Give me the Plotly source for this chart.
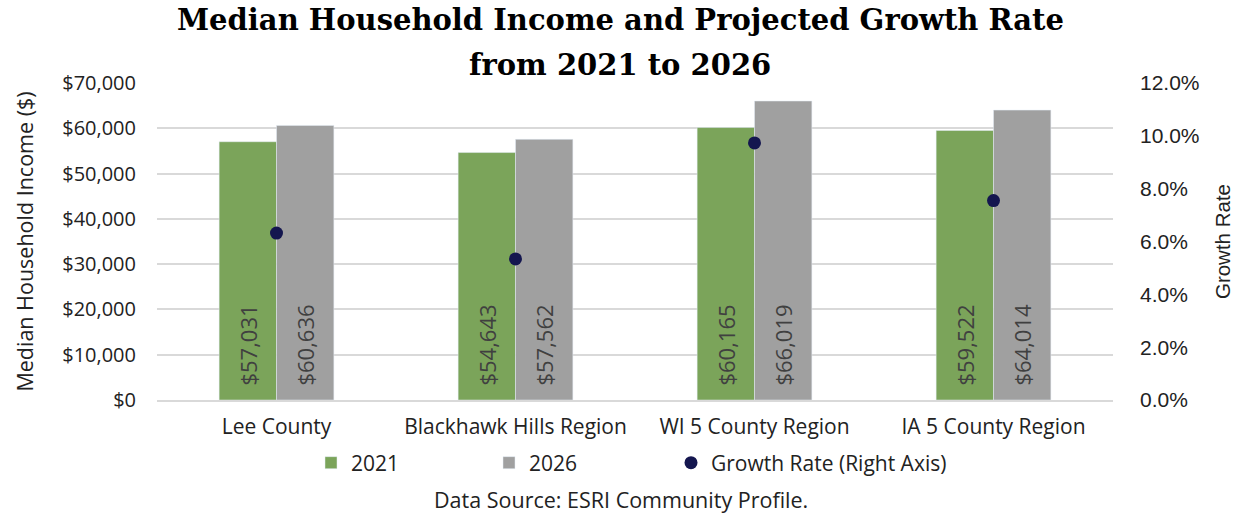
import plotly.graph_objects as go

regions = ["Lee County", "Blackhawk Hills Region", "WI 5 County Region", "IA 5 County Region"]
income_2021 = [57031, 54643, 60165, 59522]
income_2026 = [60636, 57562, 66019, 64014]
growth_rate = [0.0632, 0.0534, 0.0973, 0.0755]

green = "#7BA45A"
gray = "#A0A0A0"
navy = "#14164F"
body_font = "Open Sans"
label_font = dict(family=body_font, size=22, color="#404040")

PLOT_TOP, PLOT_BOTTOM = 83, 400
PLOT_H = PLOT_BOTTOM - PLOT_TOP
PAD = "\u00a0\u00a0"  # lifts the value labels off the bar base


def py(pixel_y):
    """Convert a page pixel row into paper coordinates."""
    return (PLOT_BOTTOM - pixel_y) / PLOT_H


fig = go.Figure()
fig.add_trace(go.Bar(
    name="2021", x=regions, y=income_2021, marker_color=green,
    text=[f"{PAD}${v:,}" for v in income_2021], textposition="inside",
    insidetextanchor="start", textangle=-90, textfont=label_font,
    hoverinfo="skip", legend="legend",
))
fig.add_trace(go.Bar(
    name="2026", x=regions, y=income_2026, marker_color=gray,
    text=[f"{PAD}${v:,}" for v in income_2026], textposition="inside",
    insidetextanchor="start", textangle=-90, textfont=label_font,
    hoverinfo="skip", legend="legend2",
))
fig.add_trace(go.Scatter(
    name="Growth Rate (Right Axis)", x=regions, y=growth_rate, yaxis="y2",
    mode="markers", marker=dict(color=navy, size=13), legend="legend3",
))

legend_common = dict(orientation="h", yanchor="middle", y=py(463), xanchor="left",
                     font=dict(family=body_font, size=21, color="#222222"),
                     bgcolor="rgba(0,0,0,0)", itemwidth=30)

fig.update_layout(
    width=1239, height=516,
    margin=dict(l=157, r=126, t=PLOT_TOP, b=516 - PLOT_BOTTOM, autoexpand=False),
    paper_bgcolor="white", plot_bgcolor="white",
    barmode="group", bargap=0.52, bargroupgap=0,
    font=dict(family=body_font, size=19, color="#222222"),
    xaxis=dict(showline=True, linecolor="#D9D9D9", linewidth=2, ticks="",
               ticklabelstandoff=7,
               tickfont=dict(family=body_font, size=21, color="#222222")),
    yaxis=dict(range=[0, 70000], dtick=10000, tickprefix="$", tickformat=",",
               showgrid=True, gridcolor="#D9D9D9", gridwidth=2, zeroline=False,
               ticks="", ticklabelstandoff=20,
               title=dict(text="Median Household Income ($)", standoff=22,
                          font=dict(family=body_font, size=21.5)),
               tickfont=dict(family=body_font, size=20)),
    yaxis2=dict(range=[0, 0.12], dtick=0.02, tickformat=".1%", overlaying="y",
                side="right", showgrid=False, zeroline=False, ticks="",
                ticklabelstandoff=26,
                title=dict(text="Growth Rate", standoff=17,
                           font=dict(family="Liberation Sans", size=20.5)),
                tickfont=dict(family="Liberation Sans", size=21)),
    legend=dict(legend_common, x=(311 - 157) / 956),
    legend2=dict(legend_common, x=(489 - 157) / 956),
    legend3=dict(legend_common, x=(671 - 157) / 956),
    showlegend=True,
)

fig.add_annotation(text="<b>Median Household Income and Projected Growth Rate</b>",
                   xref="paper", yref="paper", x=(620 - 157) / 956, y=py(20),
                   xanchor="center", yanchor="middle", showarrow=False,
                   font=dict(family="DejaVu Serif", size=29, color="black"))
fig.add_annotation(text="<b>from 2021 to 2026</b>",
                   xref="paper", yref="paper", x=(620 - 157) / 956, y=py(65),
                   xanchor="center", yanchor="middle", showarrow=False,
                   font=dict(family="DejaVu Serif", size=29, color="black"))
fig.add_annotation(text="Data Source: ESRI Community Profile.", xref="paper", yref="paper",
                   x=(621 - 157) / 956, y=py(499), xanchor="center", yanchor="middle",
                   showarrow=False, font=dict(family=body_font, size=21.5, color="#222222"))

fig.write_html("out.html")
